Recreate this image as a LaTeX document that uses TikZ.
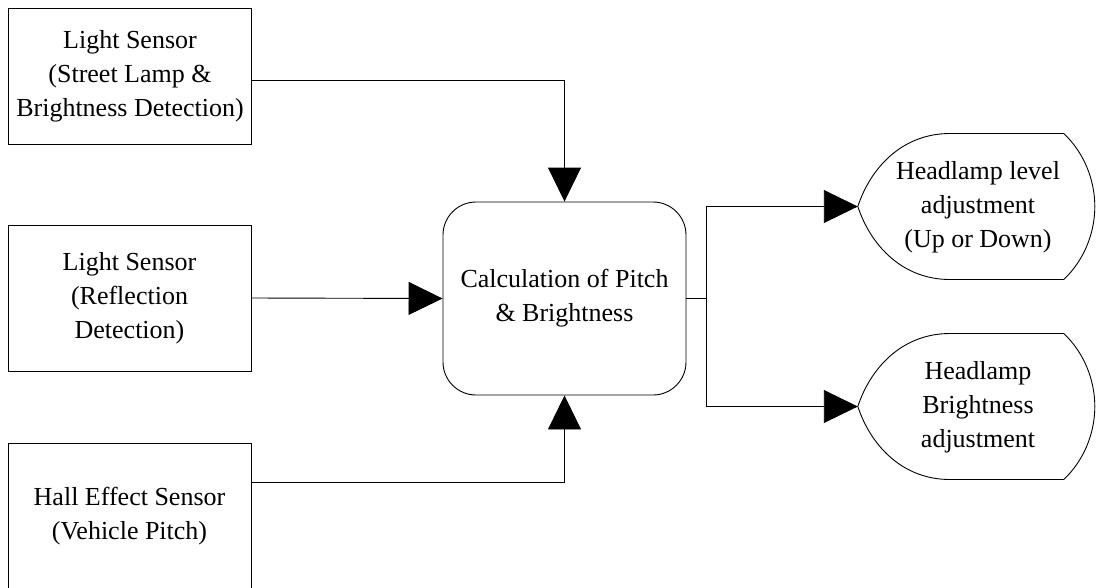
\documentclass[tikz,border=0pt]{standalone}
\usepackage{fontspec}
\setmainfont{Liberation Serif}
\usetikzlibrary{arrows.meta,calc}

\tikzset{
  lbl/.style={font=\fontsize{26}{34}\selectfont, align=center, inner sep=0pt},
  sensor/.style={lbl, draw, line width=0.9pt,
                 minimum width=243pt, minimum height=146pt},
  hub/.style={lbl, draw, line width=0.9pt, rounded corners=33pt,
              minimum width=243pt, minimum height=193pt},
  outbox/.style={lbl, minimum width=237pt, minimum height=145pt},
  wire/.style={draw, line width=0.9pt},
  conn/.style={wire, -{Triangle[length=34pt,width=33pt]}},
  dispframe/.pic={
    \draw[line width=0.9pt]
      (0,0) .. controls (14,-42) and (47,-73) .. (92,-73)
      -- (206,-73) .. controls (226,-54) and (237,-27) .. (237,0)
      .. controls (237,27) and (226,54) .. (206,73)
      -- (92,73) .. controls (47,73) and (14,42) .. (0,0) -- cycle;
  }
}

\begin{document}
\begin{tikzpicture}[x=1pt,y=-1pt]
  \useasboundingbox (0,0) rectangle (1097,587);

  % input sensors
  \node[sensor, minimum height=136pt] (s1) at (130,76)
    {Light Sensor\\(Street Lamp \&\\Brightness Detection)};
  \node[sensor] (s2) at (129.5,298)
    {Light Sensor\\(Reflection\\Detection)};
  \node[sensor] (s3) at (129.5,516)
    {Hall Effect Sensor\\(Vehicle Pitch)};

  % processing block
  \node[hub] (c) at (564.5,298.5) {Calculation of Pitch\\\& Brightness};

  % outputs
  \node[outbox] (d1) at (978,207.5) {Headlamp level\\adjustment\\(Up or Down)};
  \node[outbox] (d2) at (978,407.5) {Headlamp\\Brightness\\adjustment};
  \pic at ([xshift=-1.5pt,yshift=1pt]d1.west) {dispframe};
  \pic at ([xshift=-1.5pt,yshift=1pt]d2.west) {dispframe};

  % connectors
  \draw[conn] ([yshift=-4pt]s1.east) -| (c.north);
  \draw[conn] (s2.east) -- (c.west);
  \draw[conn] ([yshift=34pt]s3.east) -| (c.south);

  \coordinate (j) at ($(c.east)+(20,0)$);
  \draw[wire] (c.east) -- (j);
  \draw[conn] (j) |- ([xshift=-1.5pt,yshift=1pt]d1.west);
  \draw[conn] (j) |- ([xshift=-1.5pt,yshift=1pt]d2.west);
\end{tikzpicture}
\end{document}
